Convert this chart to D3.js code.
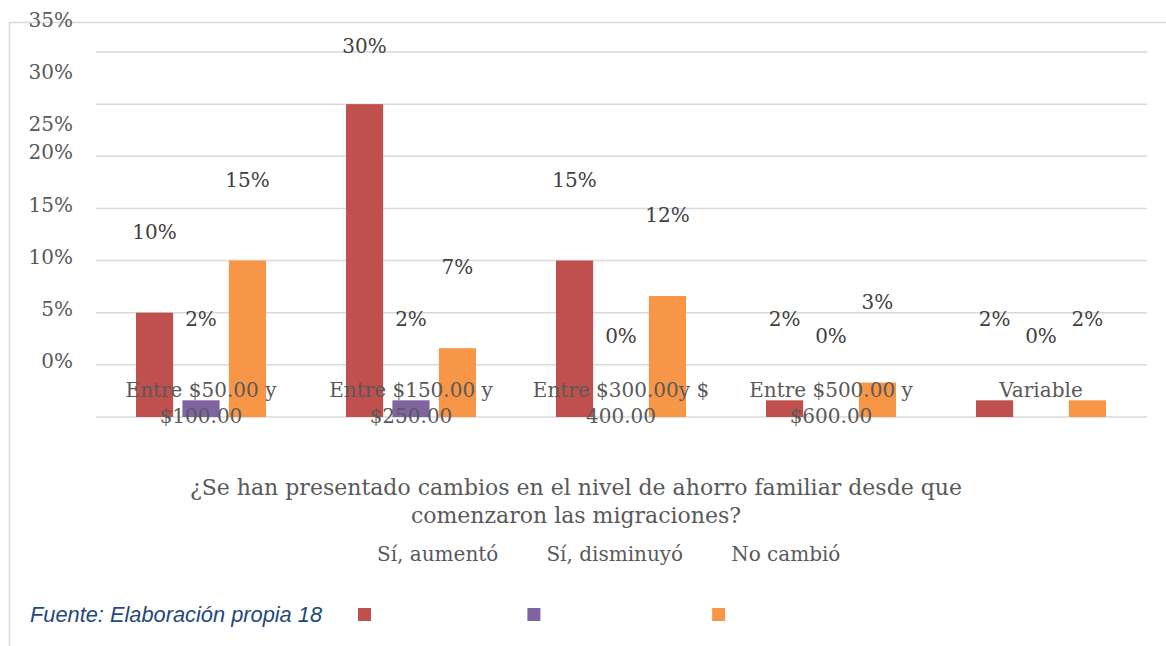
<!DOCTYPE html>
<html>
<head>
<meta charset="utf-8">
<script src="https://cdn.jsdelivr.net/npm/d3@7"></script>
<style>
  html, body { margin: 0; padding: 0; background: #fff; }
  svg { display: block; }
  text { font-family: "DejaVu Serif", serif; }
</style>
</head>
<body>
<svg id="chart" width="1166" height="646"></svg>
<script>
// categories (two text lines each)
var categories = [
  ['Entre $50.00 y', '$100.00'],
  ['Entre $150.00 y', '$250.00'],
  ['Entre $300.00y $', '400.00'],
  ['Entre $500.00 y', '$600.00'],
  ['Variable']
]
var seriesNames = ['Sí, aumentó', 'Sí, disminuyó', 'No cambió']
var seriesColors = ['#C0504D', '#8064A2', '#F79646']
// values in % (labels show them rounded)
var aumento = [10, 30, 15, 1.6, 1.6]
var disminuyo = [1.6, 1.6, 0, 0, 0]
var noCambio = [15, 6.6, 11.6, 3.3, 1.6]
var yTicks = [0, 5, 10, 15, 20, 25, 30, 35]
var titleLines = ['¿Se han presentado cambios en el nivel de ahorro familiar desde que', 'comenzaron las migraciones?']
var sourceText = 'Fuente: Elaboración propia 18'

var width = 1166, height = 646
var svg = d3.select('#chart')

var catKeys = categories.map(function (c) { return c.join(' ') })
var seriesValues = [aumento, disminuyo, noCambio]

var x0 = d3.scaleBand().domain(catKeys).range([96, 1146])
var x1 = d3.scaleBand().domain(seriesNames).range([40, 170]).paddingInner(0.2)
var y = d3.scaleLinear().domain([0, 35]).range([417, 52])

// outer frame (only top and left edges show)
svg.append('path')
  .attr('d', 'M9.5,646 L9.5,22.5 L1166,22.5')
  .attr('fill', 'none')
  .attr('stroke', '#d9d9d9')
  .attr('stroke-width', 1.5)

// gridlines
svg.append('g')
  .selectAll('line')
  .data(yTicks)
  .join('line')
  .attr('x1', 96).attr('x2', 1147)
  .attr('y1', function (d) { return y(d) }).attr('y2', function (d) { return y(d) })
  .attr('stroke', '#d9d9d9')
  .attr('stroke-width', 1.5)

// y tick labels (sit above their gridlines, as in the source)
svg.append('g')
  .selectAll('text')
  .data(yTicks)
  .join('text')
  .attr('x', 73)
  .attr('y', function (d) { return y(d) - (d >= 25 ? 25 : 49) })
  .attr('text-anchor', 'end')
  .attr('font-size', 20)
  .attr('fill', '#595959')
  .text(function (d) { return d + '%' })

// bars
var rows = []
catKeys.forEach(function (c, i) {
  seriesNames.forEach(function (s, j) {
    rows.push({ cat: c, series: s, idx: j, value: seriesValues[j][i] })
  })
})

svg.append('g')
  .selectAll('rect')
  .data(rows.filter(function (d) { return d.value > 0 }))
  .join('rect')
  .attr('x', function (d) { return x0(d.cat) + x1(d.series) })
  .attr('y', function (d) { return y(d.value) })
  .attr('width', x1.bandwidth())
  .attr('height', function (d) { return y(0) - y(d.value) })
  .attr('fill', function (d) { return seriesColors[d.idx] })

// category labels
var catG = svg.append('g')
categories.forEach(function (lines, i) {
  var cx = x0(catKeys[i]) + x0.bandwidth() / 2
  lines.forEach(function (ln, k) {
    catG.append('text')
      .attr('x', cx)
      .attr('y', y(0) - 20 + k * 26)
      .attr('text-anchor', 'middle')
      .attr('font-size', 20)
      .attr('fill', '#595959')
      .text(ln)
  })
})

// data labels (floating well above the bars)
svg.append('g')
  .selectAll('text')
  .data(rows)
  .join('text')
  .attr('x', function (d) { return x0(d.cat) + x1(d.series) + x1.bandwidth() / 2 })
  .attr('y', function (d) { return Math.max(y(d.value) - 74, 53) })
  .attr('text-anchor', 'middle')
  .attr('font-size', 20)
  .attr('fill', '#404040')
  .text(function (d) { return Math.round(d.value) + '%' })

// axis title
svg.append('g')
  .selectAll('text')
  .data(titleLines)
  .join('text')
  .attr('x', 576)
  .attr('y', function (d, i) { return 495 + i * 28 })
  .attr('text-anchor', 'middle')
  .attr('font-size', 22)
  .attr('fill', '#595959')
  .text(function (d) { return d })

// legend: texts on one row, swatches dropped below
var legend = svg.append('g')
var cursor = 358
seriesNames.forEach(function (s, j) {
  legend.append('rect')
    .attr('x', cursor).attr('y', 608)
    .attr('width', 13).attr('height', 13)
    .attr('fill', seriesColors[j])
  var t = legend.append('text')
    .attr('x', cursor + 19)
    .attr('y', 561)
    .attr('font-size', 20)
    .attr('fill', '#595959')
    .text(s)
  cursor = cursor + 19 + t.node().getComputedTextLength() + 29
})

// source note
svg.append('text')
  .attr('x', 30)
  .attr('y', 622)
  .style('font-family', '"Liberation Sans", Arial, sans-serif')
  .style('font-style', 'italic')
  .style('font-size', '21.8px')
  .attr('fill', '#1F497D')
  .text(sourceText)
</script>
</body>
</html>
